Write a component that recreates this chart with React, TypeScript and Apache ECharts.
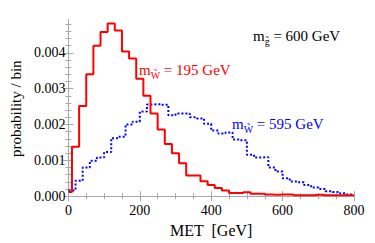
import React, { useEffect, useRef } from "react";
import * as echarts from "echarts";

// Red histogram (m_W~ = 195 GeV): bin centres and probabilities
const redCenters = [0, 20, 40, 60, 80, 100, 120, 140, 160, 180, 200, 220, 240, 260, 280, 300, 320, 340, 360, 380, 400, 420, 440, 460, 480, 500, 520, 540, 560, 580, 600, 620, 640, 660, 680, 700, 720, 740, 760, 780, 800];
const redValues = [0.00012, 0.00138, 0.00252, 0.0034, 0.0042, 0.00458, 0.00482, 0.00462, 0.00404, 0.00384, 0.00328, 0.0028, 0.00231, 0.00186, 0.00146, 0.0012, 0.00092, 0.00058, 0.00058, 0.00042, 0.00031, 0.00023, 0.00016, 0.00009, 0.00009, 0.00011, 0.00007, 0.00007, 0.00005, 0.00004, 0.00005, 0.00005, 0.00003, 0.00003, 0.00003, 0.00004, 0.00003, 0.00003, 0.00003, 0.00003, 0.00003];

// Blue histogram (m_W~ = 595 GeV): bin left edges and probabilities
const blueEdges = [0, 20, 40, 60, 80, 100, 120, 140, 160, 180, 200, 220, 240, 260, 280, 300, 320, 340, 360, 380, 400, 420, 440, 460, 480, 500, 520, 540, 560, 580, 600, 620, 640, 660, 680, 700, 720, 740, 760, 780, 800];
const blueValues = [0.00016, 0.00043, 0.0008, 0.00099, 0.00108, 0.00123, 0.00162, 0.00166, 0.002, 0.00208, 0.00236, 0.00256, 0.00257, 0.00255, 0.00226, 0.00231, 0.00231, 0.0022, 0.00217, 0.00202, 0.00183, 0.00175, 0.00178, 0.00158, 0.00156, 0.00116, 0.00108, 0.00109, 0.0008, 0.00069, 0.0005, 0.00041, 0.00039, 0.00031, 0.00024, 0.0002, 0.00014, 0.00012, 0.00008, 0.00005];

// Axis ticks
const xMajorTicks = [0, 200, 400, 600, 800];
const xMinorTicks = [50, 100, 150, 250, 300, 350, 450, 500, 550, 650, 700, 750];
const yMajorTicks = [0, 0.001, 0.002, 0.003, 0.004];
const yMinorTicks = [0.0002, 0.0004, 0.0006, 0.0008, 0.0012, 0.0014, 0.0016, 0.0018, 0.0022, 0.0024, 0.0026, 0.0028, 0.0032, 0.0034, 0.0036, 0.0038, 0.0042, 0.0044, 0.0046, 0.0048];

const X_MIN = 0;
const X_MAX = 800;
const Y_MIN = -0.00005;
const Y_MAX = 0.00493;

const FONT = "Liberation Serif, serif";
const FRAME = "#a8a8a8";

export default function App() {
  const ref = useRef<HTMLDivElement>(null);

  useEffect(() => {
    if (!ref.current) return;
    const chart = echarts.init(ref.current, null, { renderer: "svg" });

    const xAxisBase = (position: "bottom" | "top", ticks: number[], len: number, main: boolean) => ({
      type: "value",
      position,
      min: X_MIN,
      max: X_MAX,
      axisLine: { show: main, lineStyle: { color: FRAME, width: 1 } },
      axisTick: { show: true, inside: true, length: len, customValues: ticks, lineStyle: { color: FRAME, width: 1 } },
      axisLabel: { show: false },
      splitLine: { show: false },
    });
    const yAxisBase = (position: "left" | "right", ticks: number[], len: number, main: boolean) => ({
      type: "value",
      position,
      min: Y_MIN,
      max: Y_MAX,
      axisLine: { show: main, lineStyle: { color: FRAME, width: 1 } },
      axisTick: { show: true, inside: true, length: len, customValues: ticks, lineStyle: { color: FRAME, width: 1 } },
      axisLabel: { show: false },
      splitLine: { show: false },
    });

    const xMain: any = xAxisBase("bottom", xMajorTicks, 5, true);
    xMain.axisLabel = {
      show: true,
      customValues: xMajorTicks,
      color: "#000",
      fontFamily: FONT,
      fontSize: 14,
      margin: 5,
      formatter: (v: number) => String(v),
    };
    xMain.name = "MET  [GeV]";
    xMain.nameLocation = "middle";
    xMain.nameGap = 24;
    xMain.nameTextStyle = { color: "#000", fontFamily: FONT, fontSize: 16 };

    const yMain: any = yAxisBase("left", yMajorTicks, 5, true);
    yMain.axisLabel = {
      show: true,
      customValues: yMajorTicks,
      color: "#000",
      fontFamily: FONT,
      fontSize: 14,
      margin: 3,
      formatter: (v: number) => v.toFixed(3),
    };
    yMain.name = "probability / bin";
    yMain.nameLocation = "middle";
    yMain.nameGap = 44;
    yMain.nameTextStyle = { color: "#000", fontFamily: FONT, fontSize: 15 };

    const redData = redCenters.map((x, i) => [x, redValues[i]]);
    const blueData = blueEdges.map((x, i) => [x, blueValues[Math.min(i, blueValues.length - 1)]]);

    chart.setOption({
      animation: false,
      textStyle: { fontFamily: FONT },
      grid: { left: 58.5, right: 21, top: 19.5, bottom: 42, containLabel: false },
      xAxis: [
        xMain,
        xAxisBase("bottom", xMinorTicks, 3, false),
        xAxisBase("top", xMajorTicks, 5, true),
        xAxisBase("top", xMinorTicks, 3, false),
      ],
      yAxis: [
        yMain,
        yAxisBase("left", yMinorTicks, 3, false),
        yAxisBase("right", yMajorTicks, 5, true),
        yAxisBase("right", yMinorTicks, 3, false),
      ],
      series: [
        {
          type: "line",
          name: "m_W = 595 GeV",
          step: "end",
          data: blueData,
          showSymbol: false,
          lineStyle: { color: "#0000ff", width: 2, type: [2, 2] },
          z: 3,
        },
        {
          type: "line",
          name: "m_W = 195 GeV",
          step: "middle",
          data: redData,
          showSymbol: false,
          lineStyle: { color: "#ff0000", width: 2 },
          z: 4,
        },
      ],
      graphic: [
        {
          type: "text",
          x: 253,
          y: 36,
          style: {
            text: "{m|m}{s|g\u0303}{m| = 600 GeV}",
            verticalAlign: "middle",
            rich: {
              m: { fontFamily: FONT, fontSize: 15, fill: "#000", lineHeight: 20, verticalAlign: "middle" },
              s: { fontFamily: FONT, fontSize: 10, fill: "#000", lineHeight: 20, verticalAlign: "bottom" },
            },
          },
        },
        {
          type: "text",
          x: 139,
          y: 70,
          style: {
            text: "{m|m}{s|W\u0303}{m| = 195 GeV}",
            verticalAlign: "middle",
            rich: {
              m: { fontFamily: FONT, fontSize: 15, fill: "#ff0000", lineHeight: 20, verticalAlign: "middle" },
              s: { fontFamily: FONT, fontSize: 10, fill: "#ff0000", lineHeight: 20, verticalAlign: "bottom" },
            },
          },
        },
        {
          type: "text",
          x: 232,
          y: 124,
          style: {
            text: "{m|m}{s|W\u0303}{m| = 595 GeV}",
            verticalAlign: "middle",
            rich: {
              m: { fontFamily: FONT, fontSize: 15, fill: "#0000ff", lineHeight: 20, verticalAlign: "middle" },
              s: { fontFamily: FONT, fontSize: 10, fill: "#0000ff", lineHeight: 20, verticalAlign: "bottom" },
            },
          },
        },
      ],
    });

    return () => chart.dispose();
  }, []);

  return (
    <div
      ref={ref}
      style={{ position: "fixed", left: 0, top: 0, width: 375, height: 243, background: "#fff" }}
    />
  );
}
